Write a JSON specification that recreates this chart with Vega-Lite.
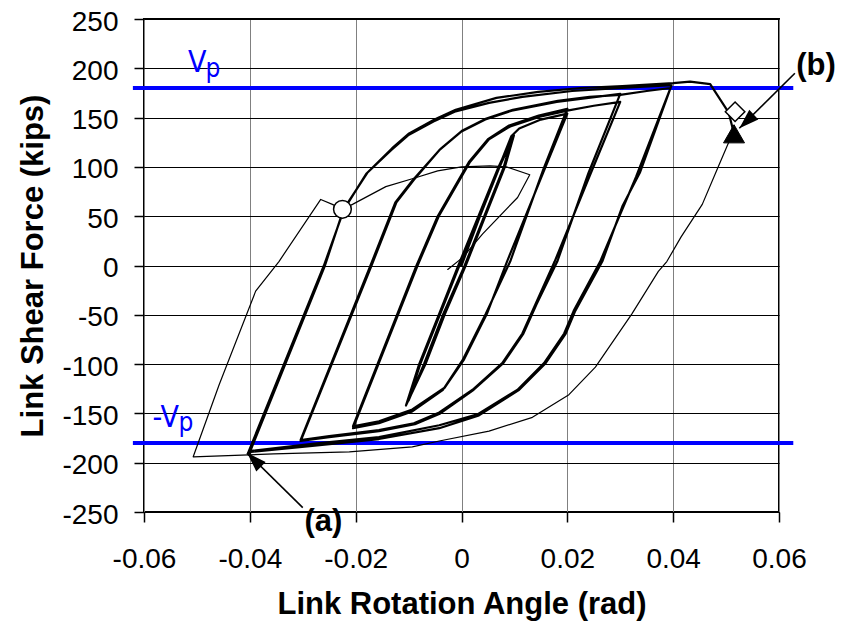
{
  "$schema": "https://vega.github.io/schema/vega-lite/v6.json",
  "width": 635,
  "height": 493,
  "autosize": {"type": "none"},
  "padding": {"left": 144, "top": 19, "right": 62, "bottom": 117},
  "background": "white",
  "config": {
    "view": {"stroke": "black", "strokeWidth": 2},
    "font": "Liberation Sans"
  },
  "datasets": {
    "curve": [
      {"i":0,"x":0,"y":0,"w":"thick"},{"i":1,"x":0.0035,"y":50,"w":"thick"},{"i":2,"x":0.0072,"y":100,"w":"thick"},{"i":3,"x":0.0099,"y":132,"w":"thick"},
      {"i":4,"x":0.0082,"y":100,"w":"thick"},{"i":5,"x":0.0045,"y":50,"w":"thick"},{"i":6,"x":0.0008,"y":0,"w":"thick"},{"i":7,"x":-0.0032,"y":-50,"w":"thick"},
      {"i":8,"x":-0.0068,"y":-100,"w":"thick"},{"i":9,"x":-0.0105,"y":-142,"w":"thick"},{"i":10,"x":-0.0080,"y":-100,"w":"thick"},{"i":11,"x":-0.0043,"y":-50,"w":"thick"},
      {"i":12,"x":-0.0006,"y":0,"w":"thick"},{"i":13,"x":0.0032,"y":50,"w":"thick"},{"i":14,"x":0.0070,"y":100,"w":"thick"},{"i":15,"x":0.0095,"y":129,"w":"thick"},
      {"i":16,"x":0.0080,"y":100,"w":"thick"},{"i":17,"x":0.0043,"y":50,"w":"thick"},{"i":18,"x":0.0006,"y":0,"w":"thick"},{"i":19,"x":-0.0035,"y":-50,"w":"thick"},
      {"i":20,"x":-0.0071,"y":-100,"w":"thick"},{"i":21,"x":-0.0100,"y":-137,"w":"thick"},{"i":22,"x":-0.0078,"y":-100,"w":"thick"},{"i":23,"x":-0.0041,"y":-50,"w":"thick"},
      {"i":24,"x":-0.0004,"y":0,"w":"thick"},{"i":25,"x":0.0034,"y":50,"w":"thick"},{"i":26,"x":0.0071,"y":100,"w":"thick"},{"i":27,"x":0.0094,"y":131,"w":"thick"},
      {"i":28,"x":0.0109,"y":139,"w":"thick"},{"i":29,"x":0.0150,"y":148,"w":"thick"},{"i":30,"x":0.0200,"y":154,"w":"thick"},
      {"i":31,"x":0.0155,"y":95,"w":"thick"},{"i":32,"x":0.0086,"y":4,"w":"thick"},{"i":33,"x":0.0048,"y":-49,"w":"thick"},{"i":34,"x":0.0004,"y":-96,"w":"thick"},
      {"i":35,"x":-0.0032,"y":-124,"w":"thick"},{"i":36,"x":-0.0093,"y":-146,"w":"thick"},{"i":37,"x":-0.0156,"y":-158,"w":"thick"},{"i":38,"x":-0.0205,"y":-163,"w":"thick"},
      {"i":39,"x":-0.0085,"y":0,"w":"thick"},{"i":40,"x":-0.0045,"y":50,"w":"thick"},{"i":41,"x":0.0014,"y":105,"w":"thick"},{"i":42,"x":0.0050,"y":128,"w":"thick"},
      {"i":43,"x":0.0090,"y":142,"w":"thick"},{"i":44,"x":0.0146,"y":152,"w":"thick"},{"i":45,"x":0.0200,"y":159,"w":"thick"},
      {"i":46,"x":0.0155,"y":98,"w":"thick"},{"i":47,"x":0.0092,"y":4,"w":"thick"},{"i":48,"x":0.0046,"y":-49,"w":"thick"},{"i":49,"x":0.0002,"y":-96,"w":"thick"},
      {"i":50,"x":-0.0035,"y":-126,"w":"thick"},{"i":51,"x":-0.0093,"y":-148,"w":"thick"},{"i":52,"x":-0.0156,"y":-160,"w":"thick"},{"i":53,"x":-0.0205,"y":-165,"w":"thick"},
      {"i":54,"x":-0.0083,"y":0,"w":"thick"},{"i":55,"x":-0.0043,"y":50,"w":"thick"},{"i":56,"x":0.0016,"y":105,"w":"thick"},{"i":57,"x":0.0052,"y":128,"w":"thick"},
      {"i":58,"x":0.0092,"y":141,"w":"thick"},{"i":59,"x":0.0148,"y":151,"w":"thick"},{"i":60,"x":0.0200,"y":157,"w":"thick"},{"i":61,"x":0.0250,"y":162,"w":"thick"},
      {"i":62,"x":0.0300,"y":166,"w":"thick"},
      {"i":63,"x":0.0240,"y":88,"w":"thick"},{"i":64,"x":0.0176,"y":4,"w":"thick"},{"i":65,"x":0.0140,"y":-39,"w":"thick"},{"i":66,"x":0.0115,"y":-69,"w":"thick"},
      {"i":67,"x":0.0077,"y":-99,"w":"thick"},{"i":68,"x":0.0021,"y":-126,"w":"thick"},{"i":69,"x":-0.0042,"y":-149,"w":"thick"},{"i":70,"x":-0.0090,"y":-160,"w":"thick"},
      {"i":71,"x":-0.0156,"y":-167,"w":"thick"},{"i":72,"x":-0.0250,"y":-173,"w":"thick"},{"i":73,"x":-0.0304,"y":-177,"w":"thick"},
      {"i":74,"x":-0.0172,"y":0,"w":"thick"},{"i":75,"x":-0.0125,"y":64,"w":"thick"},{"i":76,"x":-0.0093,"y":86,"w":"thick"},{"i":77,"x":-0.0042,"y":117,"w":"thick"},
      {"i":78,"x":0.0000,"y":136,"w":"thick"},{"i":79,"x":0.0045,"y":148,"w":"thick"},{"i":80,"x":0.0095,"y":157,"w":"thick"},{"i":81,"x":0.0180,"y":166,"w":"thick"},
      {"i":82,"x":0.0240,"y":170,"w":"thick"},{"i":83,"x":0.0300,"y":174,"w":"thick"},
      {"i":84,"x":0.0240,"y":94,"w":"thick"},{"i":85,"x":0.0181,"y":4,"w":"thick"},{"i":86,"x":0.0142,"y":-39,"w":"thick"},{"i":87,"x":0.0117,"y":-69,"w":"thick"},
      {"i":88,"x":0.0079,"y":-99,"w":"thick"},{"i":89,"x":0.0023,"y":-126,"w":"thick"},{"i":90,"x":-0.0040,"y":-150,"w":"thick"},{"i":91,"x":-0.0088,"y":-161,"w":"thick"},
      {"i":92,"x":-0.0156,"y":-168,"w":"thick"},{"i":93,"x":-0.0250,"y":-174,"w":"thick"},{"i":94,"x":-0.0304,"y":-178,"w":"thick"},
      {"i":95,"x":-0.0170,"y":0,"w":"thick"},{"i":96,"x":-0.0123,"y":64,"w":"thick"},{"i":97,"x":-0.0090,"y":87,"w":"thick"},{"i":98,"x":-0.0040,"y":118,"w":"thick"},
      {"i":99,"x":0.0002,"y":137,"w":"thick"},{"i":100,"x":0.0047,"y":149,"w":"thick"},{"i":101,"x":0.0097,"y":158,"w":"thick"},{"i":102,"x":0.0182,"y":167,"w":"thick"},
      {"i":103,"x":0.0242,"y":171,"w":"thick"},{"i":104,"x":0.0300,"y":173,"w":"thick"},{"i":105,"x":0.0350,"y":177,"w":"thick"},{"i":106,"x":0.0395,"y":180,"w":"thick"},
      {"i":107,"x":0.0330,"y":90,"w":"thick"},{"i":108,"x":0.0262,"y":4,"w":"thick"},{"i":109,"x":0.0212,"y":-46,"w":"thick"},{"i":110,"x":0.0194,"y":-69,"w":"thick"},
      {"i":111,"x":0.0156,"y":-99,"w":"thick"},{"i":112,"x":0.0106,"y":-126,"w":"thick"},{"i":113,"x":0.0030,"y":-151,"w":"thick"},{"i":114,"x":-0.0042,"y":-162,"w":"thick"},
      {"i":115,"x":-0.0156,"y":-174,"w":"thick"},{"i":116,"x":-0.0282,"y":-181,"w":"thick"},{"i":117,"x":-0.0398,"y":-188,"w":"thick"},{"i":118,"x":-0.0404,"y":-191,"w":"thick"},
      {"i":119,"x":-0.0260,"y":0,"w":"thick"},{"i":120,"x":-0.0222,"y":57,"w":"thick"},{"i":121,"x":-0.0180,"y":93,"w":"thick"},{"i":122,"x":-0.0133,"y":117,"w":"thick"},
      {"i":123,"x":-0.0101,"y":132,"w":"thick"},{"i":124,"x":-0.0053,"y":146,"w":"thick"},{"i":125,"x":-0.0013,"y":156,"w":"thick"},{"i":126,"x":0.0052,"y":165,"w":"thick"},
      {"i":127,"x":0.0115,"y":171,"w":"thick"},{"i":128,"x":0.0209,"y":177,"w":"thick"},{"i":129,"x":0.0303,"y":180,"w":"thick"},{"i":130,"x":0.0397,"y":183,"w":"thick"},
      {"i":131,"x":0.0337,"y":94,"w":"thick"},{"i":132,"x":0.0304,"y":60,"w":"thick"},{"i":133,"x":0.0266,"y":4,"w":"thick"},{"i":134,"x":0.0215,"y":-46,"w":"thick"},
      {"i":135,"x":0.0197,"y":-69,"w":"thick"},{"i":136,"x":0.0159,"y":-99,"w":"thick"},{"i":137,"x":0.0109,"y":-126,"w":"thick"},{"i":138,"x":0.0033,"y":-152,"w":"thick"},
      {"i":139,"x":-0.0042,"y":-165,"w":"thick"},{"i":140,"x":-0.0156,"y":-176,"w":"thick"},{"i":141,"x":-0.0282,"y":-183,"w":"thick"},{"i":142,"x":-0.0398,"y":-189,"w":"thick"},
      {"i":143,"x":-0.0402,"y":-192,"w":"thick"},
      {"i":144,"x":-0.0258,"y":0,"w":"thick"},{"i":145,"x":-0.0223,"y":57,"w":"thick"},{"i":146,"x":-0.0178,"y":94,"w":"thick"},{"i":147,"x":-0.0131,"y":119,"w":"thick"},
      {"i":148,"x":-0.0099,"y":134,"w":"thick"},{"i":149,"x":-0.0051,"y":148,"w":"thick"},{"i":150,"x":-0.0011,"y":158,"w":"thick"},{"i":151,"x":0.0066,"y":170,"w":"thick"},
      {"i":152,"x":0.0145,"y":176,"w":"thick"},{"i":153,"x":0.0225,"y":180,"w":"thick"},{"i":154,"x":0.0304,"y":182,"w":"thick"},{"i":155,"x":0.0400,"y":185,"w":"thick"},
      {"i":156,"x":0.0432,"y":186.5,"w":"thick"},{"i":157,"x":0.0470,"y":184,"w":"thick"},{"i":158,"x":0.0505,"y":155,"w":"thick"},{"i":159,"x":0.0512,"y":140,"w":"thick"},
      {"i":160,"x":0.0512,"y":140,"w":"thin"},{"i":161,"x":0.0505,"y":125,"w":"thin"},{"i":162,"x":0.0485,"y":100,"w":"thin"},{"i":163,"x":0.0455,"y":62,"w":"thin"},
      {"i":164,"x":0.0415,"y":29,"w":"thin"},{"i":165,"x":0.0388,"y":4,"w":"thin"},{"i":166,"x":0.0372,"y":-6,"w":"thin"},{"i":167,"x":0.0322,"y":-49,"w":"thin"},
      {"i":168,"x":0.0253,"y":-103,"w":"thin"},{"i":169,"x":0.0203,"y":-131,"w":"thin"},{"i":170,"x":0.0134,"y":-154,"w":"thin"},{"i":171,"x":0.0052,"y":-168,"w":"thin"},
      {"i":172,"x":-0.0042,"y":-178,"w":"thin"},{"i":173,"x":-0.0093,"y":-184,"w":"thin"},{"i":174,"x":-0.0212,"y":-189,"w":"thin"},{"i":175,"x":-0.0355,"y":-191,"w":"thin"},
      {"i":176,"x":-0.0402,"y":-192,"w":"thin"},{"i":177,"x":-0.0507,"y":-194,"w":"thin"},{"i":178,"x":-0.0458,"y":-121,"w":"thin"},{"i":179,"x":-0.0389,"y":-26,"w":"thin"},
      {"i":180,"x":-0.0345,"y":4,"w":"thin"},{"i":181,"x":-0.0266,"y":67,"w":"thin"},{"i":182,"x":-0.0244,"y":62,"w":"thin"},{"i":183,"x":-0.0225,"y":57,"w":"thin"},
      {"i":184,"x":-0.0206,"y":62,"w":"thin"},{"i":185,"x":-0.0143,"y":80,"w":"thin"},{"i":186,"x":-0.0093,"y":88,"w":"thin"},{"i":187,"x":-0.0045,"y":96,"w":"thin"},
      {"i":188,"x":0.0000,"y":100,"w":"thin"},{"i":189,"x":0.0054,"y":101,"w":"thin"},{"i":190,"x":0.0085,"y":100,"w":"thin"},{"i":191,"x":0.0129,"y":92,"w":"thin"},
      {"i":192,"x":0.0106,"y":69,"w":"thin"},{"i":193,"x":0.0040,"y":32,"w":"thin"},{"i":194,"x":0.0002,"y":8,"w":"thin"},{"i":195,"x":-0.0026,"y":-4,"w":"thin"}
    ]
  },
  "layer": [
    {
      "data": {"values": [{"vp": 180}, {"vp": -180}]},
      "mark": {"type": "rule", "color": "#0000ff", "strokeWidth": 4},
      "encoding": {
        "x": {"datum": -0.0621, "type": "quantitative", "scale": {"domain": [-0.06, 0.06], "nice": false, "zero": false}, "title": "Link Rotation Angle (rad)",
          "axis": {
            "values": [-0.06, -0.04, -0.02, 0, 0.02, 0.04, 0.06],
            "labelExpr": "datum.value == 0 ? '0' : replace(format(datum.value, '.2f'), '\u2212', '-')",
            "grid": true, "gridColor": "#808080", "gridWidth": 1, "gridOpacity": 1,
            "domain": false, "tickSize": 10, "tickColor": "black", "tickWidth": 1.5,
            "labelFont": "Liberation Sans", "labelFontSize": 28, "labelColor": "black", "labelPadding": 23, "labelOverlap": false, "labelFlush": false,
            "titleFont": "Liberation Sans", "titleFontSize": 31, "titleFontWeight": "bold", "titleColor": "black",
            "titleBaseline": "alphabetic", "titleY": 101
          }},
        "x2": {"datum": 0.0627},
        "y": {"field": "vp", "type": "quantitative", "scale": {"domain": [-250, 250], "nice": false, "zero": false}, "title": "Link Shear Force (kips)",
          "axis": {
            "values": [-250, -200, -150, -100, -50, 0, 50, 100, 150, 200, 250],
            "labelExpr": "replace(format(datum.value, 'd'), '\u2212', '-')",
            "grid": true, "gridColor": "black", "gridWidth": 1, "gridOpacity": 1,
            "domain": false, "tickSize": 10, "tickColor": "black", "tickWidth": 1.5,
            "labelFont": "Liberation Sans", "labelFontSize": 28, "labelColor": "black", "labelPadding": 16, "labelOffset": 3, "labelOverlap": false, "labelFlush": false,
            "titleFont": "Liberation Sans", "titleFontSize": 31, "titleFontWeight": "bold", "titleColor": "black",
            "titleBaseline": "alphabetic", "titleX": -102
          }}
      }
    },
    {
      "data": {"name": "curve"},
      "mark": {"type": "line", "color": "black", "strokeJoin": "round", "strokeCap": "round"},
      "encoding": {
        "x": {"field": "x", "type": "quantitative", "title": "Link Rotation Angle (rad)"},
        "y": {"field": "y", "type": "quantitative", "title": "Link Shear Force (kips)"},
        "order": {"field": "i", "type": "quantitative"},
        "strokeWidth": {"field": "w", "type": "nominal", "scale": {"domain": ["thick", "thin"], "range": [2.2, 1.2]}, "legend": null}
      }
    },
    {
      "data": {"values": [{}]},
      "mark": {"type": "point", "shape": "circle", "filled": true, "fill": "white", "stroke": "black", "strokeWidth": 1.5, "size": 314, "opacity": 1},
      "encoding": {"x": {"datum": -0.0225}, "y": {"datum": 57}}
    },
    {
      "data": {"values": [{}]},
      "mark": {"type": "point", "shape": "diamond", "filled": true, "fill": "white", "stroke": "black", "strokeWidth": 1.5, "size": 380, "opacity": 1},
      "encoding": {"x": {"datum": 0.0517}, "y": {"datum": 156}}
    },
    {
      "data": {"values": [{}]},
      "mark": {"type": "point", "shape": "triangle-up", "filled": true, "fill": "black", "stroke": "black", "strokeWidth": 1, "size": 441, "opacity": 1},
      "encoding": {"x": {"datum": 0.0515}, "y": {"datum": 133.6}}
    },
    {
      "data": {"values": [{}]},
      "mark": {"type": "rule", "color": "black", "strokeWidth": 1.6},
      "encoding": {"x": {"datum": -0.0405}, "y": {"datum": -190}, "x2": {"datum": -0.0300}, "y2": {"datum": -245.5}}
    },
    {
      "data": {"values": [{}]},
      "mark": {"type": "rule", "color": "black", "strokeWidth": 1.6},
      "encoding": {"x": {"datum": 0.0525}, "y": {"datum": 139.2}, "x2": {"datum": 0.0630}, "y2": {"datum": 195}}
    },
    {
      "data": {"values": [{}]},
      "mark": {"type": "point", "shape": "M0,-1L-0.6,0.8L0.6,0.8Z", "filled": true, "fill": "black", "size": 484, "angle": 315, "opacity": 1},
      "encoding": {"x": {"datum": -0.03907}, "y": {"datum": -197.8}}
    },
    {
      "data": {"values": [{}]},
      "mark": {"type": "point", "shape": "M0,-1L-0.6,0.8L0.6,0.8Z", "filled": true, "fill": "black", "size": 484, "angle": 226.6, "opacity": 1},
      "encoding": {"x": {"datum": 0.05403}, "y": {"datum": 146.9}}
    },
    {
      "data": {"values": [{}]},
      "mark": {"type": "text", "text": "V", "font": "Liberation Sans Narrow, DejaVu Sans Condensed, Liberation Sans", "fontSize": 30, "color": "#0000ff", "align": "left", "baseline": "alphabetic"},
      "encoding": {"x": {"datum": -0.0517}, "y": {"datum": 196.4}}
    },
    {
      "data": {"values": [{}]},
      "mark": {"type": "text", "text": "p", "font": "Liberation Sans Narrow, DejaVu Sans Condensed, Liberation Sans", "fontSize": 26, "color": "#0000ff", "align": "left", "baseline": "alphabetic"},
      "encoding": {"x": {"datum": -0.0484}, "y": {"datum": 191}}
    },
    {
      "data": {"values": [{}]},
      "mark": {"type": "text", "text": "-V", "font": "Liberation Sans Narrow, DejaVu Sans Condensed, Liberation Sans", "fontSize": 30, "color": "#0000ff", "align": "left", "baseline": "alphabetic"},
      "encoding": {"x": {"datum": -0.0584}, "y": {"datum": -163.5}}
    },
    {
      "data": {"values": [{}]},
      "mark": {"type": "text", "text": "p", "font": "Liberation Sans Narrow, DejaVu Sans Condensed, Liberation Sans", "fontSize": 26, "color": "#0000ff", "align": "left", "baseline": "alphabetic"},
      "encoding": {"x": {"datum": -0.0535}, "y": {"datum": -167.6}}
    },
    {
      "data": {"values": [{}]},
      "mark": {"type": "text", "text": "(a)", "font": "Liberation Sans", "fontWeight": "bold", "fontSize": 31, "color": "black", "align": "center", "baseline": "middle"},
      "encoding": {"x": {"datum": -0.0261}, "y": {"datum": -259.8}}
    },
    {
      "data": {"values": [{}]},
      "mark": {"type": "text", "text": "(b)", "font": "Liberation Sans", "fontWeight": "bold", "fontSize": 31, "color": "black", "align": "center", "baseline": "middle"},
      "encoding": {"x": {"datum": 0.0670}, "y": {"datum": 202.2}}
    }
  ]
}
